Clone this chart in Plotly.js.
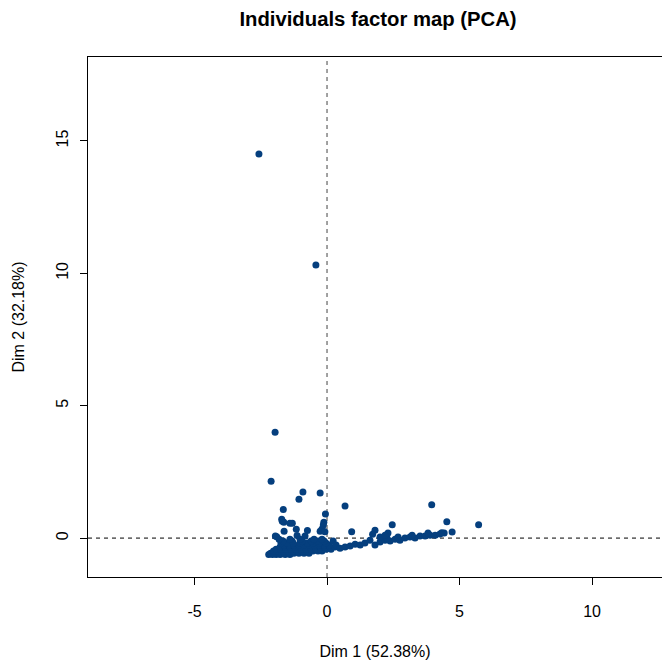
<!DOCTYPE html>
<html>
<head>
<meta charset="utf-8">
<script src="https://cdn.plot.ly/plotly-3.0.1.min.js"></script>
<style>
  html, body { margin: 0; padding: 0; background: #ffffff; }
  #chart { width: 662px; height: 664px; }
</style>
</head>
<body>
<div id="chart"></div>
<script>
// Individual coordinates on the first two principal components
const dim1 = [
  // outlying individuals
  -2.57, -0.42, -1.96, -2.11, -0.91, -1.06, -0.26, 0.68, -1.65, -0.06, -1.71,
  -1.63, -1.69, -1.40, -1.31, -1.62, -1.16, -0.74, -0.26, -0.19, -0.12, -0.14, -0.08,
  -1.90, -1.95, -1.13, -0.83,
  // dense cluster near the origin
  -2.20, -2.06, -1.92, -1.77, -1.58, -1.40,
  -2.13, -2.00, -1.81, -1.62, -1.43, -1.25, -1.06, -0.87, -0.68,
  -2.02, -1.85, -1.66, -1.47, -1.28, -1.09, -0.91, -0.72, -0.53, -0.34, -0.19,
  -1.92, -1.74, -1.55, -1.36, -1.17, -0.98, -0.79, -0.60, -0.42, -0.23, -0.04, 0.15,
  -1.77, -1.58, -1.40, -1.21, -1.02, -0.83, -0.64, -0.45, -0.26, -0.08, 0.11, 0.30,
  -1.62, -1.43, -1.25, -1.06, -0.87, -0.68, -0.49, -0.30, -0.11, 0.08,
  -1.74, -1.51, -1.28, -1.02, -0.75, -0.53, -0.30, -0.04,
  -1.66, -1.32, -0.94, -0.60, -0.34, -0.11,
  -1.81, -1.40, -1.02, -0.49, -0.19,
  // tail towards positive Dim 1
  0.23, 0.34, 0.49, 0.68, 0.87, 1.06, 1.25, 1.43, 1.62, 1.81, 2.00, 2.19, 2.38,
  2.57, 2.75, 2.94, 3.13, 3.32, 3.51, 3.70, 3.89, 4.08, 4.26, 4.42,
  2.00, 2.26, 2.68, 3.21, 3.81, 2.30, 2.19,
  0.93, 1.81, 1.72, 2.46, 3.95, 4.52, 5.72, 4.72, 4.33
];
const dim2 = [
  14.51, 10.31, 4.00, 2.15, 1.74, 1.47, 1.70, 1.21, 1.08, 0.91, 0.71,
  0.60, 0.64, 0.56, 0.56, 0.26, 0.33, 0.29, 0.26, 0.34, 0.60, 0.49, 0.24,
  0.05, 0.08, 0.10, 0.08,
  -0.62, -0.62, -0.62, -0.62, -0.62, -0.62,
  -0.57, -0.57, -0.57, -0.57, -0.57, -0.57, -0.57, -0.57, -0.57,
  -0.49, -0.49, -0.49, -0.49, -0.49, -0.49, -0.49, -0.49, -0.49, -0.49, -0.49,
  -0.42, -0.42, -0.42, -0.42, -0.42, -0.42, -0.42, -0.42, -0.42, -0.42, -0.42, -0.42,
  -0.34, -0.34, -0.34, -0.34, -0.34, -0.34, -0.34, -0.34, -0.34, -0.34, -0.34, -0.34,
  -0.26, -0.26, -0.26, -0.26, -0.26, -0.26, -0.26, -0.26, -0.26, -0.26,
  -0.19, -0.19, -0.19, -0.19, -0.19, -0.19, -0.19, -0.19,
  -0.11, -0.11, -0.11, -0.11, -0.11, -0.11,
  -0.04, -0.04, -0.04, -0.04, -0.04,
  -0.11, -0.26, -0.38, -0.34, -0.30, -0.23, -0.26, -0.19, -0.08, -0.26, -0.15, -0.08, -0.11,
  -0.04, -0.08, 0.00, 0.04, 0.00, 0.08, 0.08, 0.11, 0.11, 0.15, 0.19,
  0.04, 0.00, 0.04, 0.11, 0.19, 0.19, 0.11,
  0.24, 0.30, 0.14, 0.50, 1.26, 0.62, 0.50, 0.23, 0.20
];

const xTicks = [-5, 0, 5, 10];
const yTicks = [0, 5, 10, 15];
const xLabel = "Dim 1 (52.38%)";
const yLabel = "Dim 2 (32.18%)";
const chartTitle = "Individuals factor map (PCA)";

const pointColor = "#053f7e";
const font = "Liberation Sans, Arial, sans-serif";

const trace = {
  type: "scatter",
  mode: "markers",
  x: dim1,
  y: dim2,
  marker: { color: pointColor, size: 7, line: { width: 0 } },
  hoverinfo: "x+y"
};

const layout = {
  width: 662,
  height: 664,
  margin: { l: 88, r: 0, t: 57, b: 87 },
  paper_bgcolor: "#ffffff",
  plot_bgcolor: "#ffffff",
  showlegend: false,
  font: { family: font, size: 16, color: "#000000" },
  title: {
    text: "<b>" + chartTitle + "</b>",
    font: { family: font, size: 20.3, color: "#000000" },
    x: 378 / 662, xanchor: "center", xref: "container",
    y: 1 - 19 / 664, yanchor: "middle", yref: "container"
  },
  xaxis: {
    range: [-9.02, 12.64],
    tickvals: xTicks,
    ticktext: xTicks.map(String),
    tickfont: { family: font, size: 16 },
    ticks: "outside", ticklen: 7, tickwidth: 1, tickcolor: "#000000",
    ticklabelstandoff: 13,
    showline: true, linecolor: "#000000", linewidth: 1, mirror: true,
    showgrid: false, zeroline: false,
    title: { text: xLabel, standoff: 26, font: { family: font, size: 16 } }
  },
  yaxis: {
    range: [-1.47, 18.17],
    tickvals: yTicks,
    ticktext: yTicks.map(String),
    tickfont: { family: font, size: 16 },
    tickangle: -90,
    ticks: "outside", ticklen: 7, tickwidth: 1, tickcolor: "#000000",
    ticklabelstandoff: 6,
    showline: true, linecolor: "#000000", linewidth: 1, mirror: false,
    showgrid: false, zeroline: false,
    title: { text: yLabel, standoff: 24, font: { family: font, size: 16 } }
  },
  shapes: [
    { type: "line", xref: "x", yref: "paper", x0: 0, x1: 0, y0: 0, y1: 1,
      line: { color: "#444444", width: 1, dash: "4px,4px" }, layer: "below" },
    { type: "line", xref: "paper", yref: "y", x0: 0, x1: 1, y0: 0, y1: 0,
      line: { color: "#000000", width: 1, dash: "4px,4px" }, layer: "below" }
  ]
};

Plotly.newPlot("chart", [trace], layout, { displayModeBar: false, staticPlot: true });
</script>
</body>
</html>
